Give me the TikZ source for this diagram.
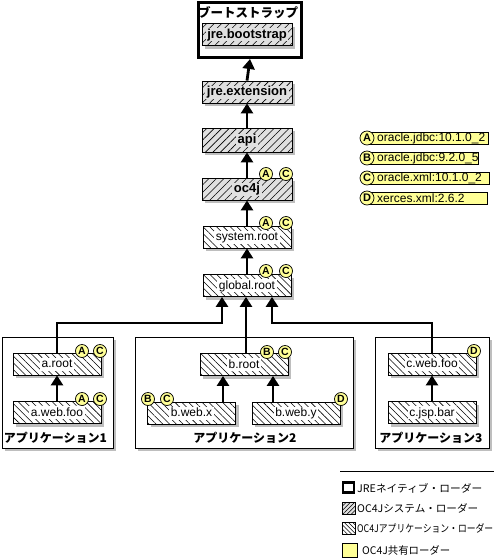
\documentclass[tikz,border=0pt]{standalone}
\usepackage{fontspec}
\usepackage{graphicx}
\setmainfont{Liberation Sans}
\newfontfamily\jp{Noto Sans CJK JP}
\usetikzlibrary{patterns.meta,arrows.meta,shadows}
\definecolor{sysgray}{RGB}{224,224,224}
\definecolor{shgray}{RGB}{190,190,190}
\definecolor{badgey}{RGB}{255,255,150}
\newcommand\mkldr[5]{\node[#3] (#1) at (#2) {};\node[#4] (#1-t) at (#1.center) {#5};}
\tikzset{
  shad/.style={drop shadow={shadow xshift=3pt,shadow yshift=-3pt,fill=shgray,opacity=1}},
  sysbox/.style={draw,line width=0.8pt,fill=sysgray,minimum width=90pt,minimum height=22pt,inner sep=0pt,shad,
    postaction={pattern={Lines[angle=45,distance=5.3pt,line width=0.55pt]}}},
  appldr/.style={draw,line width=0.8pt,fill=white,minimum width=88pt,minimum height=22pt,inner sep=0pt,shad,
    postaction={pattern={Lines[angle=-45,distance=4.8pt,line width=0.55pt]}}},
  systxt/.style={fill=sysgray,inner xsep=1.5pt,inner ysep=0pt,text height=10pt,text depth=3pt,
    font=\fontsize{13}{15}\selectfont\bfseries},
  apptxt/.style={fill=white,inner xsep=1.5pt,inner ysep=0pt,text height=10pt,text depth=3pt,
    font=\fontsize{12}{14}\selectfont},
  appframe/.style={draw,line width=0.8pt,fill=white,inner sep=0pt,shad},
  arr/.style={line width=2.8pt,-{Triangle[width=12pt,length=10pt]}},
  badge/.style={circle,draw,line width=0.7pt,fill=badgey,inner sep=0pt,minimum size=13pt,
    font=\fontsize{10.5}{10}\selectfont\bfseries},
  keybadge/.style={badge,minimum size=14pt,font=\fontsize{11}{11}\selectfont\bfseries},
  keyrect/.style={draw,line width=0.7pt,fill=badgey,inner sep=0pt,minimum height=12pt,anchor=west},
  keytxt/.style={anchor=west,inner sep=0pt,font=\fontsize{12}{14}\selectfont},
  apptitle/.style={inner sep=0pt,font=\jp\bfseries\fontsize{12}{14}\selectfont},
  legtxt/.style={anchor=west,inner sep=0pt,font=\jp\fontsize{10.5}{12}\selectfont},
}
\begin{document}
\begin{tikzpicture}[x=1pt,y=-1pt]
\useasboundingbox (0,0) rectangle (494,560);

% bootstrap
\node[draw,line width=3pt,minimum width=103pt,minimum height=55pt,inner sep=0pt] (boot) at (250,30) {};
\node[inner sep=0pt,font=\jp\bfseries\fontsize{12.5}{14}\selectfont] (boottitle) at (248,12.5) {ブートストラップ};
\mkldr{jboot}{247,34.5}{sysbox}{systxt}{jre.bootstrap}
\mkldr{jext}{247,92}{sysbox}{systxt}{jre.extension}
\mkldr{api}{247,140}{sysbox,minimum height=24pt}{systxt}{api}
\mkldr{oc4j}{247,189}{sysbox}{systxt}{oc4j}
\mkldr{sroot}{247,237}{appldr}{apptxt}{system.root}
\mkldr{groot}{247,285.5}{appldr}{apptxt}{global.root}

\draw[arr] (jext.north) -- (boot.south);
\draw[arr] (api.north) -- (jext.south);
\draw[arr] (oc4j.north) -- (api.south);
\draw[arr] (sroot.north) -- (oc4j.south);
\draw[arr] (groot.north) -- (sroot.south);

\node[badge] (oc4j-a) at (266,174) {A};
\node[badge] (oc4j-c) at (286,174) {C};
\node[badge] (sroot-a) at (266,223) {A};
\node[badge] (sroot-c) at (286,223) {C};
\node[badge] (groot-a) at (266,271) {A};
\node[badge] (groot-c) at (286,271) {C};

% applications
\node[appframe,minimum width=111pt,minimum height=111pt] (app1) at (57.5,392.5) {};
\node[appframe,minimum width=218pt,minimum height=111pt] (app2) at (244,392.5) {};
\node[appframe,minimum width=114pt,minimum height=111pt] (app3) at (432,392.5) {};
\node[apptitle] (app1-t) at (55.5,438) {アプリケーション1};
\node[apptitle] (app2-t) at (245,438) {アプリケーション2};
\node[apptitle] (app3-t) at (431,438) {アプリケーション3};

\mkldr{aroot}{57,364}{appldr}{apptxt}{a.root}
\mkldr{aweb}{57,412.5}{appldr}{apptxt}{a.web.foo}
\mkldr{broot}{244,364.5}{appldr}{apptxt}{b.root}
\mkldr{bwx}{191.5,413}{appldr}{apptxt}{b.web.x}
\mkldr{bwy}{296,413}{appldr}{apptxt}{b.web.y}
\mkldr{cweb}{432,364}{appldr}{apptxt}{c.web.foo}
\mkldr{cjsp}{432,412.5}{appldr}{apptxt}{c.jsp.bar}

\coordinate (x223) at (223,0);
\coordinate (x273) at (273,0);
\coordinate (x246) at (246,0);
\coordinate (jl) at (222,323);
\coordinate (jr) at (272,323);

\draw[arr] (aweb.north) -- (aroot.south);
\draw[arr] (bwx.north -| x223) -- (broot.south -| x223);
\draw[arr] (bwy.north -| x273) -- (broot.south -| x273);
\draw[arr] (cjsp.north) -- (cweb.south);

\draw[arr] (aroot.north) |- (jl) -- (jl |- groot.south);
\draw[arr] (broot.north -| x246) -- (groot.south -| x246);
\draw[arr] (cweb.north) |- (jr) -- (jr |- groot.south);

\node[badge] (aroot-a) at (82,351) {A};
\node[badge] (aroot-c) at (100,351) {C};
\node[badge] (aweb-a) at (82,399) {A};
\node[badge] (aweb-c) at (100,399) {C};
\node[badge] (broot-b) at (267,352) {B};
\node[badge] (broot-c) at (285,352) {C};
\node[badge] (bwx-b) at (148,399) {B};
\node[badge] (bwx-c) at (167,399) {C};
\node[badge] (bwy-d) at (341,399) {D};
\node[badge] (cweb-d) at (474,351) {D};

% library key
\node[keyrect,minimum width=121pt] (ka-r) at (367,138) {};
\node[keyrect,minimum width=111pt] (kb-r) at (367,158) {};
\node[keyrect,minimum width=122pt] (kc-r) at (367,178) {};
\node[keyrect,minimum width=120pt] (kd-r) at (367,198) {};
\node[keybadge] (ka) at (367,138) {A};
\node[keybadge] (kb) at (367,158) {B};
\node[keybadge] (kc) at (367,178) {C};
\node[keybadge] (kd) at (367,198) {D};
\node[keytxt] (ka-t) at (377,138) {oracle.jdbc:10.1.0\_2};
\node[keytxt] (kb-t) at (377,158) {oracle.jdbc:9.2.0\_5};
\node[keytxt] (kc-t) at (377,178) {oracle.xml:10.1.0\_2};
\node[keytxt] (kd-t) at (377,198) {xerces.xml:2.6.2};

% legend
\coordinate (lgl) at (340,471);
\coordinate (lgr) at (494,471);
\draw[line width=0.8pt] (lgl) -- (lgr);
\node[draw,line width=2.2pt,minimum width=11pt,minimum height=10pt,inner sep=0pt] (lg1) at (348.5,487.5) {};
\node[draw,line width=0.7pt,fill=sysgray,minimum width=13pt,minimum height=12pt,inner sep=0pt,
  postaction={pattern={Lines[angle=45,distance=3pt,line width=0.5pt]}}] (lg2) at (348.5,508) {};
\node[draw,line width=0.7pt,fill=white,minimum width=13pt,minimum height=12pt,inner sep=0pt,
  postaction={pattern={Lines[angle=-45,distance=3pt,line width=0.5pt]}}] (lg3) at (348.5,528) {};
\node[draw,line width=0.5pt,fill=badgey,minimum width=15pt,minimum height=14pt,inner sep=0pt] (lg4) at (349.5,550) {};
\node[legtxt] (lg1-t) at (357,488) {\resizebox{125pt}{\height}{JREネイティブ・ローダー}};
\node[legtxt] (lg2-t) at (357,508) {\resizebox{121pt}{\height}{OC4Jシステム・ローダー}};
\node[legtxt] (lg3-t) at (357,528) {\resizebox{136pt}{\height}{OC4Jアプリケーション・ローダー}};
\node[legtxt] (lg4-t) at (362,550) {\resizebox{88pt}{\height}{OC4J共有ローダー}};
\end{tikzpicture}
\end{document}
